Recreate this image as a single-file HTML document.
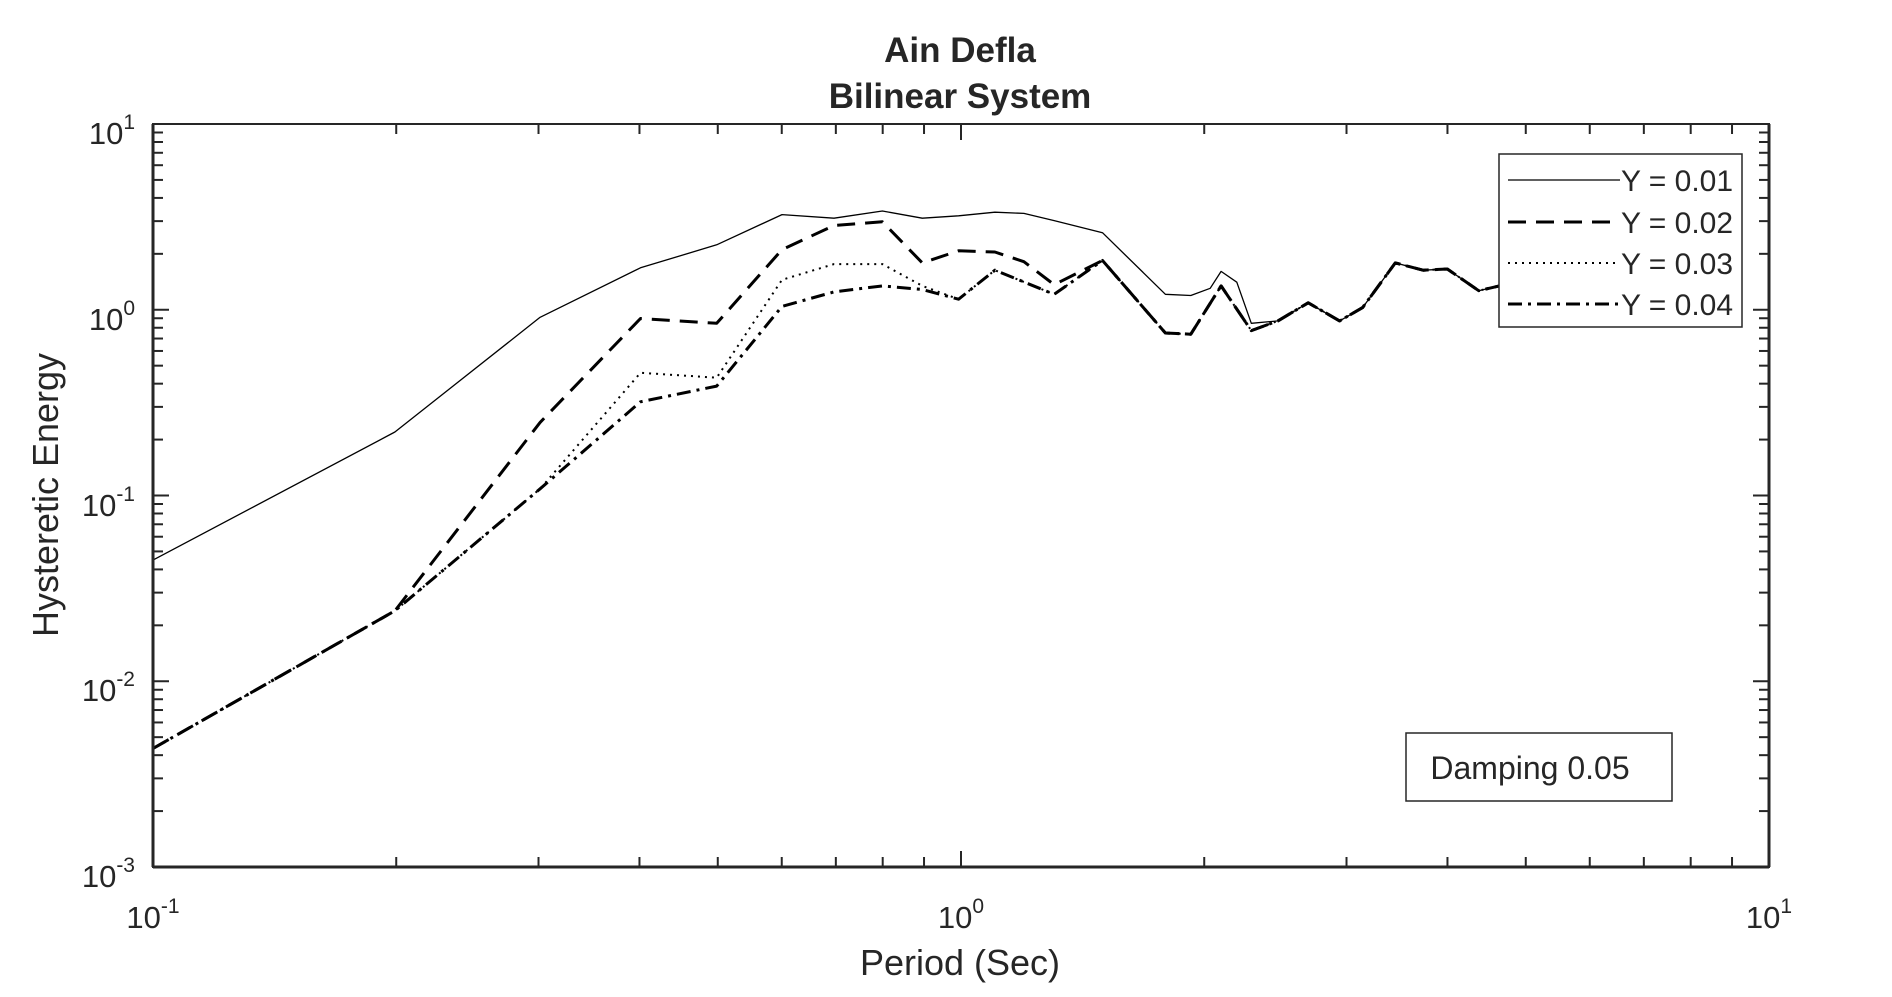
<!DOCTYPE html>
<html><head><meta charset="utf-8"><style>
html,body{margin:0;padding:0;background:#fff;}
svg{display:block;}
text{font-family:"Liberation Sans",Arial,sans-serif;fill:#262626;}
</style></head><body>
<svg id="s" width="1892" height="997" viewBox="0 0 1892 997" xmlns="http://www.w3.org/2000/svg">
<rect width="1892" height="997" fill="#fff"/>
<text x="960" y="62" font-size="35" font-weight="bold" text-anchor="middle" fill="#000">Ain Defla</text>
<text x="960" y="108" font-size="35" font-weight="bold" text-anchor="middle" fill="#000">Bilinear System</text>
<g id="ticks"></g>
<g id="curves" fill="none" stroke="#000" stroke-linejoin="round"></g>
<rect x="153" y="124" width="1616" height="743" fill="none" stroke="#262626" stroke-width="2"/>
<line x1="153" y1="124" x2="153" y2="867" stroke="#262626" stroke-width="3"/>
<line x1="153" y1="867" x2="1769" y2="867" stroke="#262626" stroke-width="3"/>
<line x1="1769" y1="124" x2="1769" y2="867" stroke="#262626" stroke-width="3"/>
<text x="153" y="928" font-size="31" text-anchor="middle">10<tspan dy="-15" font-size="21">-1</tspan></text>
<text x="961" y="928" font-size="31" text-anchor="middle">10<tspan dy="-15" font-size="21">0</tspan></text>
<text x="1769" y="928" font-size="31" text-anchor="middle">10<tspan dy="-15" font-size="21">1</tspan></text>
<text x="135" y="144" font-size="31" text-anchor="end">10<tspan dy="-15" font-size="21">1</tspan></text>
<text x="135" y="330" font-size="31" text-anchor="end">10<tspan dy="-15" font-size="21">0</tspan></text>
<text x="135" y="516" font-size="31" text-anchor="end">10<tspan dy="-15" font-size="21">-1</tspan></text>
<text x="135" y="701" font-size="31" text-anchor="end">10<tspan dy="-15" font-size="21">-2</tspan></text>
<text x="135" y="887" font-size="31" text-anchor="end">10<tspan dy="-15" font-size="21">-3</tspan></text>
<text x="960" y="975" font-size="36" text-anchor="middle">Period (Sec)</text>
<text transform="translate(58,495) rotate(-90)" font-size="36" text-anchor="middle">Hysteretic Energy</text>
<rect x="1499" y="154" width="243" height="173" fill="#fff" stroke="#262626" stroke-width="1.5"/>
<line x1="1508" y1="180" x2="1620" y2="180" stroke="#000" stroke-width="1.3"/>
<line x1="1508" y1="222" x2="1620" y2="222" stroke="#000" stroke-width="3" stroke-dasharray="18,10"/>
<line x1="1508" y1="263" x2="1620" y2="263" stroke="#000" stroke-width="2" stroke-dasharray="2,5"/>
<line x1="1508" y1="304" x2="1620" y2="304" stroke="#000" stroke-width="3" stroke-dasharray="14,6,3,6"/>
<text x="1621" y="191" font-size="30">Y = 0.01</text>
<text x="1621" y="233" font-size="30">Y = 0.02</text>
<text x="1621" y="274" font-size="30">Y = 0.03</text>
<text x="1621" y="315" font-size="30">Y = 0.04</text>
<rect x="1406" y="733" width="266" height="68" fill="#fff" stroke="#262626" stroke-width="1.5"/>
<text x="1530" y="779" font-size="32" text-anchor="middle" fill="#000">Damping 0.05</text>
</svg>
<script>
(function(){
var NS="http://www.w3.org/2000/svg";
function el(p,n,a){var e=document.createElementNS(NS,n);for(var k in a)e.setAttribute(k,a[k]);p.appendChild(e);return e;}
var L=153,R=1769,T=124,B=867,dx=(R-L)/2,dy=(B-T)/4;
var tg=document.getElementById('ticks');
for(var d=-1;d<1;d++){for(var m=1;m<=9;m++){var x=L+(d+1+Math.log10(m))*dx;var len=(m==1)?16:10;
 if(m==1&&d==-1)continue;
 el(tg,'line',{x1:x,y1:B,x2:x,y2:B-len,stroke:'#262626','stroke-width':2});
 el(tg,'line',{x1:x,y1:T,x2:x,y2:T+len,stroke:'#262626','stroke-width':2});}}
for(var d=-3;d<1;d++){for(var m=1;m<=9;m++){var y=B-(d+3+Math.log10(m))*dy;var len=(m==1)?16:10;
 if(m==1&&d==-3)continue;
 el(tg,'line',{x1:L,y1:y,x2:L+len,y2:y,stroke:'#262626','stroke-width':2});
 el(tg,'line',{x1:R,y1:y,x2:R-len,y2:y,stroke:'#262626','stroke-width':2});}}
function mx(X){return 153+(X-130)*1.2096;}function my(Y){return 124+(Y-103)*1.208;}
var tail=[[1038,274],[1060,266],[1085,251],[1111,266],[1130,255],[1157,218],[1180,224],[1200,223],[1226,241],[1243,237]];
var mid=[[915,216],[967,276],[988,277],[1013,237]];
var s1=[[130,464],[330,358],[450,263],[533,222],[596,203],[650,178],[693,181],[733,175],[766,181],[796,179],[826,176],[850,177],[875,183],[915,193],[967,244],[988,245],[1004,239],[1013,225],[1026,234],[1038,268],[1060,266],[1085,251],[1111,266],[1130,255],[1157,218],[1180,224],[1200,223],[1226,241],[1243,237]];
var s2=[[130,620],[330,506],[450,350],[533,264],[596,268],[650,207],[693,187],[733,184],[766,218],[796,208],[826,209],[850,217],[875,236]].concat(mid,tail);
var s3=[[130,620],[330,506],[450,405],[533,309],[596,313],[650,232],[693,219],[733,219],[766,237],[796,248],[826,224],[875,244]].concat(mid,tail);
var s4=[[130,620],[330,506],[450,405],[533,333],[596,320],[650,254],[693,242],[733,237],[766,240],[796,248],[826,224],[875,244]].concat(mid,tail);
function pd(a){return a.map(function(p,i){return (i?'L':'M')+mx(p[0]).toFixed(1)+' '+my(p[1]).toFixed(1);}).join('');}
var cg=document.getElementById('curves');
el(cg,'path',{d:pd(s4),'stroke-width':3,'stroke-dasharray':'14,6,3,6'});
el(cg,'path',{d:pd(s3),'stroke-width':2,'stroke-dasharray':'2,5'});
el(cg,'path',{d:pd(s2),'stroke-width':3,'stroke-dasharray':'18,10'});
el(cg,'path',{d:pd(s1),'stroke-width':1.3});
})();
</script>
</body></html>
